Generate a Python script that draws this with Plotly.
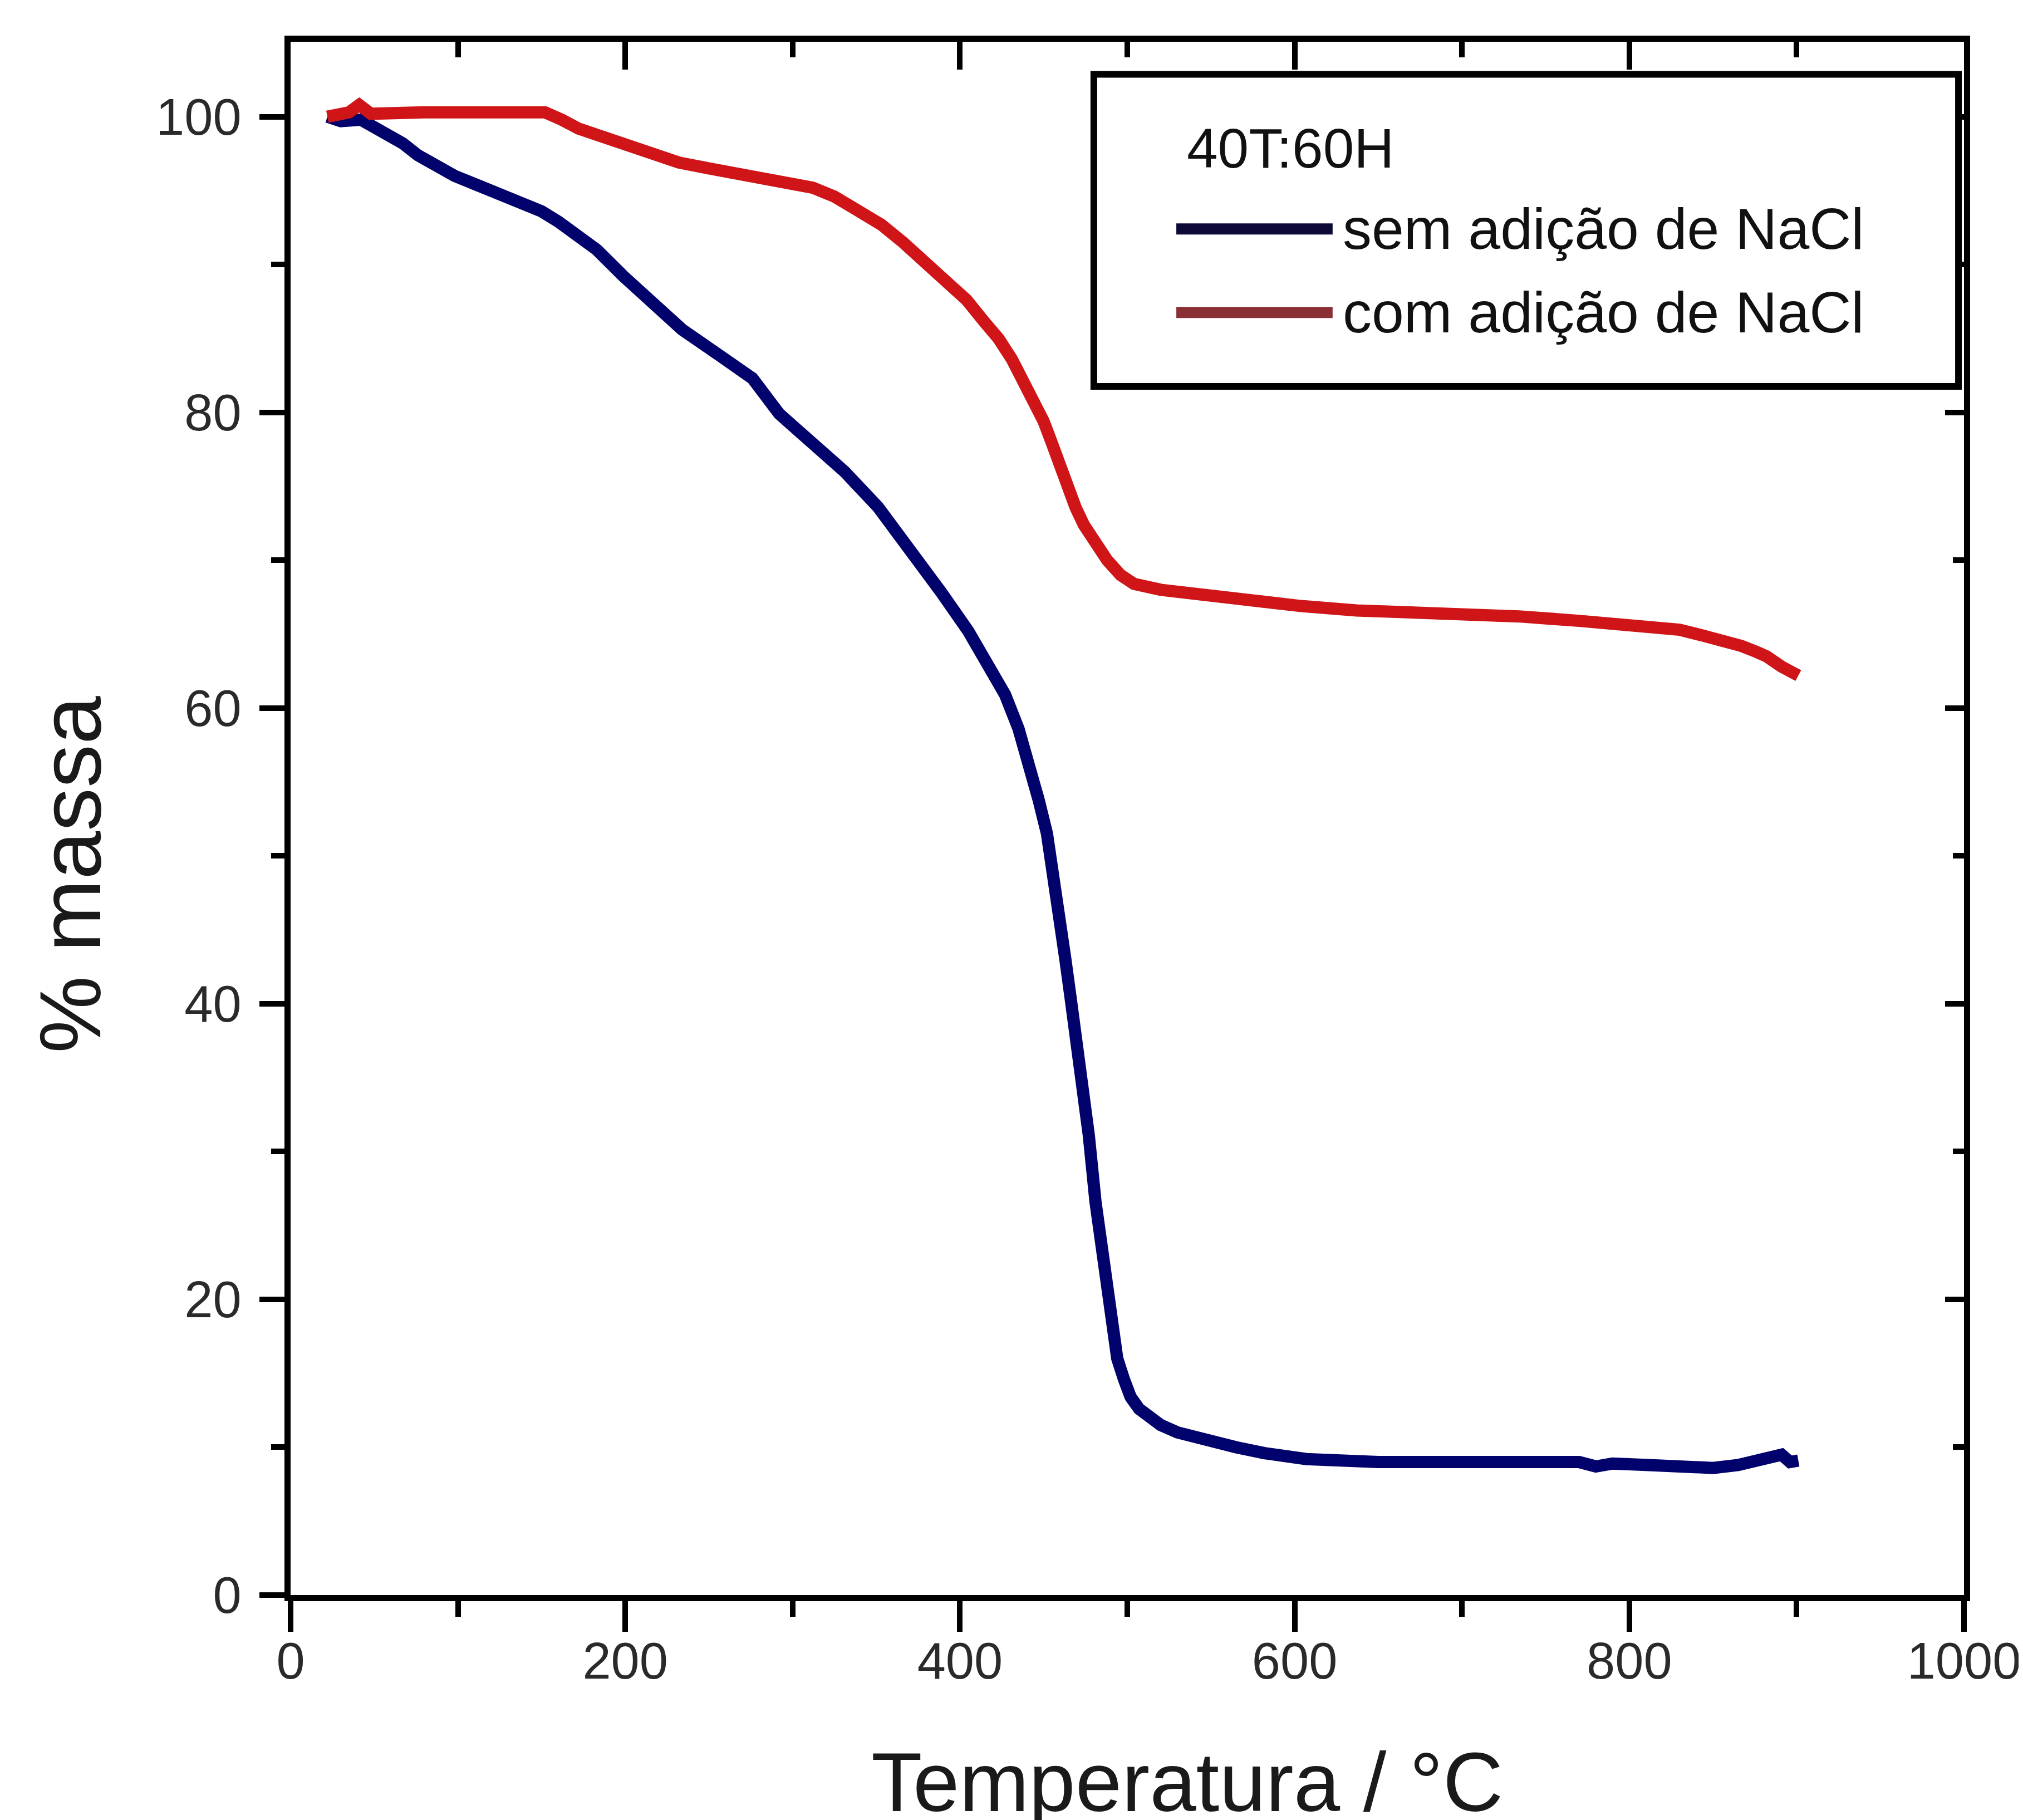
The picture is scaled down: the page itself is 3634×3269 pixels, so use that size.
import plotly.graph_objects as go

# ---- data ----
temp_sem = [22, 30, 42, 52, 60, 67, 76, 86, 98, 111, 125, 138, 150, 160, 172, 183, 199, 215, 234,
            257, 276, 292, 312, 331, 351, 370, 389, 405, 418, 427, 435, 441, 447, 452, 456, 459,
            463, 466, 469, 472, 475, 477, 481, 486, 490, 494, 498, 502, 507, 513, 520, 530, 548,
            565, 582, 607, 650, 696, 740, 770, 780, 790, 810, 830, 850, 865, 875, 885, 891, 896, 901]
massa_sem = [100.0, 99.7, 99.8, 99.2, 98.8, 98.2, 97.4, 96.7, 96.0, 95.4, 94.8, 94.2, 93.6, 92.9,
             92.0, 91.0, 89.2, 87.5, 85.6, 83.8, 82.3, 79.9, 78.0, 76.0, 73.6, 70.8, 67.8, 65.2,
             62.8, 60.9, 58.6, 56.4, 53.8, 51.5, 48.8, 46.2, 43.0, 40.5, 38.2, 36.0, 33.0, 31.1,
             26.6, 22.9, 18.8, 16.0, 14.6, 13.4, 12.6, 12.0, 11.5, 11.0, 10.4, 10.0, 9.6, 9.2,
             9.0, 9.0, 9.0, 9.0, 8.7, 8.9, 8.8, 8.6, 8.6, 8.8, 9.0, 9.4, 9.5, 9.0, 9.1]

temp_com = [22, 35, 41, 48, 80, 120, 152, 162, 172, 185, 199, 215, 232, 250, 265, 280, 298, 312,
            325, 338, 353, 366, 380, 392, 404, 414, 423, 431, 438, 444, 450, 455, 459, 464, 469,
            474, 479, 488, 496, 504, 520, 542, 563, 584, 604, 637, 670, 702, 734, 770, 808, 830,
            844, 856, 867, 876, 882, 891, 897, 901]
massa_com = [100.0, 100.3, 100.8, 100.2, 100.3, 100.3, 100.3, 99.8, 99.2, 98.7, 98.1, 97.5, 96.9,
             96.5, 96.2, 96.0, 95.6, 95.2, 94.6, 93.8, 92.7, 91.5, 90.0, 88.7, 87.6, 86.2, 85.0,
             83.6, 82.2, 80.8, 79.4, 77.9, 76.5, 75.0, 73.6, 72.4, 71.4, 70.0, 69.0, 68.4, 68.0,
             67.7, 67.4, 67.1, 66.9, 66.6, 66.5, 66.4, 66.2, 65.9, 65.6, 65.3, 64.9, 64.6, 64.2,
             63.8, 63.5, 62.8, 62.3, 62.2]

series_names = ["sem adição de NaCl", "com adição de NaCl"]
legend_title = "40T:60H"
x_title = "Temperatura / °C"
y_title = "% massa"
x_ticks = [0, 200, 400, 600, 800, 1000]
y_ticks = [0, 20, 40, 60, 80, 100]

BLUE = "#02026c"
RED = "#d01518"
FONT = "Liberation Sans, Arial, sans-serif"
TICKCOL = "#2a2a2a"

fig = go.Figure()
fig.add_trace(go.Scatter(x=temp_sem, y=massa_sem, mode="lines", name=series_names[0],
                         line=dict(color=BLUE, width=22), showlegend=False))
fig.add_trace(go.Scatter(x=temp_com, y=massa_com, mode="lines", name=series_names[1],
                         line=dict(color=RED, width=22), showlegend=False))
# empty trace to host the mirrored (inside-tick) top/right axes
fig.add_trace(go.Scatter(x=[], y=[], xaxis="x2", yaxis="y2", showlegend=False, hoverinfo="skip"))

XR = [0, 1000]
YR = [0, 105.07]

fig.update_layout(
    width=3634, height=3269,
    margin=dict(l=514, r=101, t=67, b=412),
    paper_bgcolor="white", plot_bgcolor="white",
    font=dict(family=FONT, color="#1a1a1a"),
    showlegend=False,
    xaxis=dict(range=XR, showgrid=False, zeroline=False, showline=True, linewidth=11,
               linecolor="black", mirror=True, ticks="outside", ticklen=55, tickwidth=10,
               tickcolor="black", tickvals=x_ticks, ticktext=[str(v) for v in x_ticks],
               tickfont=dict(size=92, family=FONT, color=TICKCOL),
               ticklabeloverflow="allow", ticklabelstandoff=-26,
               minor=dict(dtick=100, tick0=0, ticks="outside", ticklen=28, tickwidth=10,
                          tickcolor="black", showgrid=False)),
    yaxis=dict(range=YR, showgrid=False, zeroline=False, showline=True, linewidth=11,
               linecolor="black", mirror=True, ticks="outside", ticklen=45, tickwidth=10,
               tickcolor="black", tickvals=y_ticks, ticktext=[str(v) for v in y_ticks],
               tickfont=dict(size=92, family=FONT, color=TICKCOL),
               ticklabeloverflow="allow", ticklabelstandoff=14,
               minor=dict(dtick=10, tick0=0, ticks="outside", ticklen=24, tickwidth=10,
                          tickcolor="black", showgrid=False)),
    xaxis2=dict(range=XR, overlaying="x", side="top", anchor="y2", showgrid=False,
                zeroline=False, showline=False, ticks="inside", ticklen=50, tickwidth=10,
                tickcolor="black", tickvals=x_ticks, showticklabels=False,
                minor=dict(dtick=100, tick0=0, ticks="inside", ticklen=28, tickwidth=10,
                           tickcolor="black", showgrid=False)),
    yaxis2=dict(range=YR, overlaying="y", side="right", anchor="x2", showgrid=False,
                zeroline=False, showline=False, ticks="inside", ticklen=34, tickwidth=10,
                tickcolor="black", tickvals=y_ticks, showticklabels=False,
                minor=dict(dtick=10, tick0=0, ticks="inside", ticklen=20, tickwidth=10,
                           tickcolor="black", showgrid=False)),
)

# axis titles
fig.add_annotation(text=x_title, xref="paper", yref="paper", x=0.5356, y=-0.1205,
                   xanchor="center", yanchor="middle", showarrow=False,
                   font=dict(size=150, family=FONT, color="#1a1a1a"))
fig.add_annotation(text=y_title, xref="paper", yref="paper", x=-0.1316, y=0.4640,
                   xanchor="center", yanchor="middle", showarrow=False, textangle=-90,
                   font=dict(size=156, family=FONT, color="#1a1a1a"))

# legend box (drawn manually to reproduce the long line samples)
fig.add_shape(type="rect", xref="paper", yref="paper", x0=0.4800, x1=0.9967, y0=0.7781, y1=0.9790,
              line=dict(color="black", width=12), fillcolor="white", layer="above")
fig.add_annotation(text=legend_title, xref="paper", yref="paper", x=0.5350, y=0.9315,
                   xanchor="left", yanchor="middle", showarrow=False,
                   font=dict(size=100, family=FONT, color="#111"))
legend_rows = [(series_names[0], "#0e0a38", 0.8795), (series_names[1], "#8a3035", 0.8257)]
for name, col, yy in legend_rows:
    fig.add_shape(type="line", xref="paper", yref="paper", x0=0.5293, x1=0.6227, y0=yy, y1=yy,
                  line=dict(color=col, width=20), layer="above")
    fig.add_annotation(text=name, xref="paper", yref="paper", x=0.628, y=yy,
                       xanchor="left", yanchor="middle", showarrow=False,
                       font=dict(size=104, family=FONT, color="#111"))

fig.write_html("out.html")
